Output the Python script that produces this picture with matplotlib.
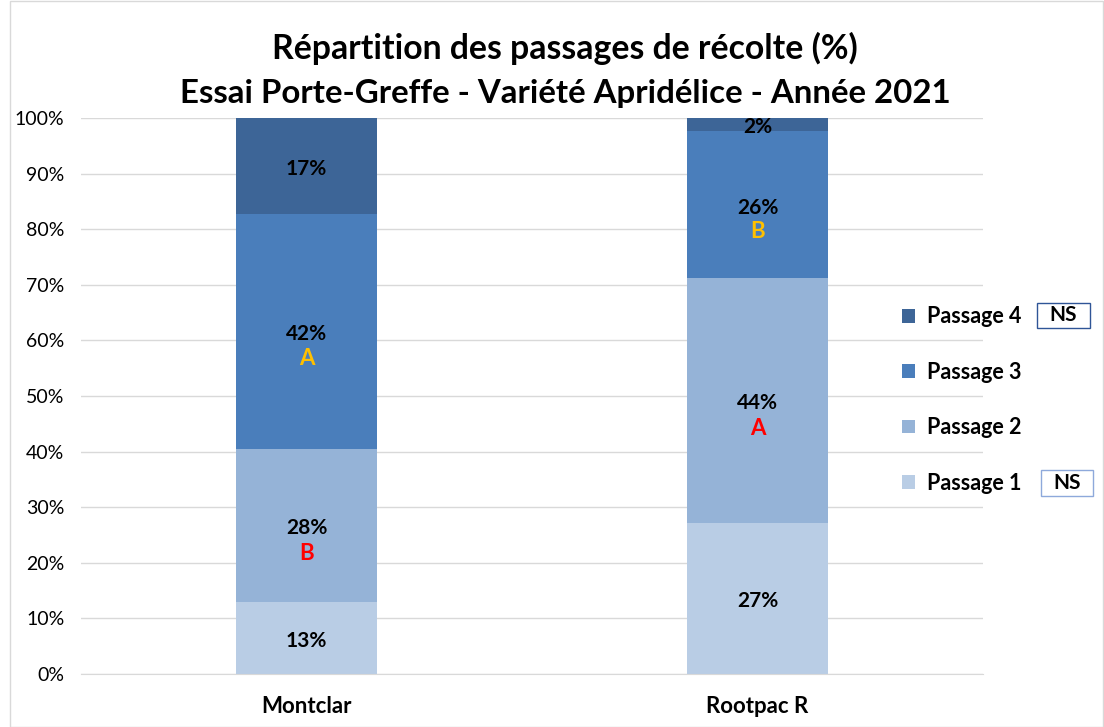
import numpy as np
import matplotlib.pyplot as plt
from matplotlib.patches import Rectangle

# données
categories = ["Montclar", "Rootpac R"]
passages = ["Passage 1", "Passage 2", "Passage 3", "Passage 4"]
p1 = [12.9, 27.2]
p2 = [27.6, 44.0]
p3 = [42.2, 26.4]
p4 = [17.3, 2.4]
lettres_p2 = ["B", "A"]
lettres_p3 = ["A", "B"]

couleurs = ["#B9CDE5", "#95B3D7", "#4A7EBB", "#3D6597"]

plt.rcParams['font.family'] = ['Lato', 'DejaVu Sans']

W, H = 1104, 727
fig = plt.figure(figsize=(W/100, H/100), dpi=100)
ax = fig.add_axes([81/W, 1 - 674/H, (983 - 81)/W, (674 - 118)/H])

x = np.arange(len(categories))
series = [p1, p2, p3, p4]
bottom = np.zeros(len(categories))
for vals, col, lab in zip(series, couleurs, passages):
    ax.bar(x, vals, 0.313, bottom=bottom, color=col, label=lab, zorder=2)
    for xi, v, b0 in zip(x, vals, bottom):
        ax.text(xi, b0 + v/2 - 0.5, f"{v:.0f}%", ha='center', va='center',
                fontsize=15, fontweight='bold', color='black', zorder=3)
    bottom = bottom + np.array(vals)

# lettres de significativité
for xi, l, b0, v in zip(x, lettres_p2, p1, p2):
    ax.text(xi, b0 + v/2 - 5.1, l, ha='center', va='center', fontsize=16,
            fontweight='bold', color='#FF0000', zorder=3)
for xi, l, b0, b1, v in zip(x, lettres_p3, p1, p2, p3):
    ax.text(xi, b0 + b1 + v/2 - 4.9, l, ha='center', va='center', fontsize=16,
            fontweight='bold', color='#FFC000', zorder=3)

ax.set_xlim(-0.5, 1.5)
ax.set_ylim(0, 100)
ax.set_yticks(np.arange(0, 101, 10))
ax.set_yticklabels([f"{v}%" for v in range(0, 101, 10)], fontsize=14)
ax.set_xticks(x)
ax.set_xticklabels(categories, fontsize=16, fontweight='bold')
ax.tick_params(axis='both', length=0)
ax.tick_params(axis='y', pad=12)
ax.tick_params(axis='x', pad=16)
ax.grid(axis='y', color='#D9D9D9', linewidth=1, zorder=0)
ax.set_axisbelow(True)
for s in ['top', 'right', 'left']:
    ax.spines[s].set_visible(False)
ax.spines['bottom'].set_color('#D9D9D9')

handles, labels = ax.get_legend_handles_labels()
fig.legend(handles[::-1], labels[::-1], loc='center left',
           bbox_to_anchor=(883/W, 1 - 400/H), frameon=False,
           prop={'size': 15.5, 'weight': 'bold'}, labelspacing=1.6,
           handlelength=0.6, handleheight=0.6, handletextpad=0.55)

# encadrés NS
for (x0, y0, x1, y1), ec in [((1037, 303, 1090, 328), '#2F5597'),
                             ((1041, 470, 1093, 496), '#8EA9DB')]:
    fig.patches.append(Rectangle((x0/W, 1 - y1/H), (x1 - x0)/W, (y1 - y0)/H,
                                 transform=fig.transFigure, fill=False,
                                 edgecolor=ec, lw=1))
    fig.text((x0 + x1)/2/W, 1 - (y0 + y1)/2/H, "NS", ha='center', va='center',
             fontsize=15, fontweight='bold')

fig.text(0.512, 1 - 48/H, "Répartition des passages de récolte (%)",
         ha='center', va='center', fontsize=24.3, fontweight='bold')
fig.text(0.512, 1 - 93/H, "Essai Porte-Greffe - Variété Apridélice - Année 2021",
         ha='center', va='center', fontsize=23.8, fontweight='bold')

fig.patches.append(Rectangle((0.009, 0.0), 0.99, 0.999, transform=fig.transFigure,
                             fill=False, edgecolor='#D9D9D9', lw=1))

fig.savefig("out.png", dpi=100)
